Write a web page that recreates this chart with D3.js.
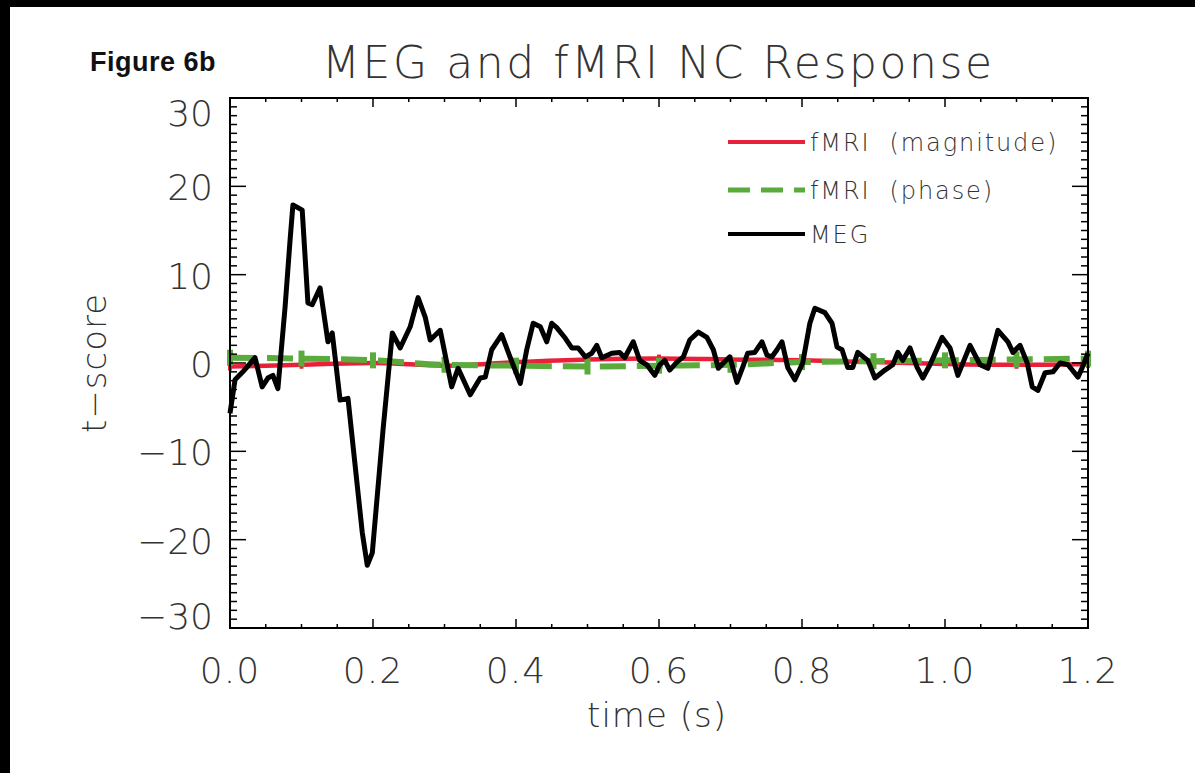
<!DOCTYPE html>
<html>
<head>
<meta charset="utf-8">
<script src="https://cdn.jsdelivr.net/npm/d3@7"></script>
<style>
  html, body { margin: 0; padding: 0; background: #fff; }
  svg { display: block; }
  .thin { font-family: "DejaVu Sans", sans-serif; font-weight: 200; fill: #333; }
</style>
</head>
<body>
<svg id="chart" width="1195" height="773"></svg>
<script>
// MEG t-score trace (time in s, t-score)
const megTime = [0.000,0.007,0.018,0.035,0.045,0.053,0.060,0.067,0.077,0.084,0.088,0.101,0.109,0.115,0.126,0.137,0.143,0.154,0.165,0.185,0.192,0.199,0.214,0.227,0.238,0.252,0.263,0.273,0.280,0.294,0.310,0.319,0.336,0.350,0.357,0.366,0.380,0.392,0.406,0.415,0.424,0.434,0.443,0.450,0.457,0.469,0.478,0.487,0.497,0.506,0.513,0.520,0.534,0.545,0.552,0.564,0.573,0.583,0.594,0.601,0.608,0.615,0.625,0.634,0.643,0.655,0.667,0.676,0.683,0.690,0.699,0.709,0.717,0.724,0.734,0.744,0.751,0.758,0.765,0.772,0.780,0.790,0.801,0.811,0.818,0.832,0.842,0.849,0.856,0.864,0.871,0.878,0.892,0.902,0.916,0.927,0.934,0.941,0.951,0.961,0.969,0.979,0.996,1.007,1.018,1.035,1.049,1.060,1.074,1.088,1.095,1.105,1.115,1.122,1.130,1.140,1.151,1.161,1.172,1.186,1.192,1.200];
const megValue = [-5.7,-1.9,-1.0,0.6,-2.7,-1.7,-1.4,-2.9,6.3,13.9,17.9,17.3,6.8,6.6,8.5,2.4,3.4,-4.2,-4.0,-19.2,-22.9,-21.5,-7.6,3.4,1.7,4.1,7.4,5.2,2.6,3.7,-2.7,-0.6,-3.6,-1.7,-1.6,1.5,3.2,0.6,-2.3,1.5,4.5,4.1,2.4,4.5,4.0,2.8,1.7,1.7,0.7,1.1,2.0,0.6,1.1,1.2,0.6,2.4,0.3,-0.2,-1.4,-0.2,0.3,-0.8,0.1,0.7,2.6,3.5,2.9,1.5,-0.6,0.0,0.7,-2.2,-0.5,1.1,1.2,2.4,0.9,0.7,1.5,2.4,-0.5,-1.9,0.0,4.5,6.2,5.7,4.5,1.8,1.5,-0.5,-0.5,1.2,0.3,-1.7,-0.8,-0.2,1.2,0.3,1.7,-0.5,-1.7,-0.2,2.9,1.7,-1.4,2.0,-0.2,-0.6,3.7,2.4,1.2,2.0,0.0,-2.7,-3.1,-1.1,-1.0,0.0,-0.2,-1.6,-0.5,1.1];

// fMRI responses sampled every 0.1 s
const fmriTime = [0.0,0.1,0.2,0.3,0.4,0.5,0.6,0.7,0.8,0.9,1.0,1.1,1.2];
const fmriMagnitude = [-0.4,-0.2,0.0,-0.3,0.1,0.4,0.5,0.4,0.3,0.1,-0.1,-0.2,-0.1];
const fmriPhase = [0.6,0.5,0.3,-0.2,-0.3,-0.4,-0.3,-0.2,0.1,0.2,0.3,0.4,0.5];

// Axis ticks
const xTicks = [0.0,0.2,0.4,0.6,0.8,1.0,1.2];
const xTickLabels = ["0.0","0.2","0.4","0.6","0.8","1.0","1.2"];
const yTicks = [-30,-20,-10,0,10,20,30];
const yTickLabels = ["\u221230","\u221220","\u221210","0","10","20","30"];

const legendLabels = ["fMRI\u00a0\u00a0(magnitude)", "fMRI\u00a0\u00a0(phase)", "MEG"];
const seriesColors = ["#e8203a", "#5aaa3c", "#000000"];

const svg = d3.select("#chart");
const W = 1195, H = 773;
svg.append("rect").attr("width", W).attr("height", H).attr("fill", "#fff");

const L = 230, R = 1088, T = 98, B = 628;
const x = d3.scaleLinear().domain([0, 1.2]).range([L, R]);
const y = d3.scaleLinear().domain([-30, 30]).range([B, T]);

// series
const lineGen = d3.line().x(d => x(d[0])).y(d => y(d[1]));
const magData = fmriTime.map((t, i) => [t, fmriMagnitude[i]]);
const phaseData = fmriTime.map((t, i) => [t, fmriPhase[i]]);
const megData = megTime.map((t, i) => [t, megValue[i]]);

const plot = svg.append("g");
plot.append("path").datum(magData).attr("d", lineGen.curve(d3.curveMonotoneX))
  .attr("fill", "none").attr("stroke", seriesColors[0]).attr("stroke-width", 4.5);
plot.selectAll(".magbar").data(magData).enter().append("line")
  .attr("x1", d => x(d[0])).attr("x2", d => x(d[0]))
  .attr("y1", d => y(d[1]) - 4).attr("y2", d => y(d[1]) + 4)
  .attr("stroke", seriesColors[0]).attr("stroke-width", 4);

plot.append("path").datum(phaseData).attr("d", lineGen.curve(d3.curveMonotoneX))
  .attr("fill", "none").attr("stroke", seriesColors[1]).attr("stroke-width", 6)
  .attr("stroke-dasharray", "26,11");
plot.selectAll(".phbar").data(phaseData).enter().append("line")
  .attr("x1", d => x(d[0])).attr("x2", d => x(d[0]))
  .attr("y1", d => y(d[1]) - 8).attr("y2", d => y(d[1]) + 8)
  .attr("stroke", seriesColors[1]).attr("stroke-width", 6);

plot.append("path").datum(megData).attr("d", d3.line().x(d => x(d[0])).y(d => y(d[1])))
  .attr("fill", "none").attr("stroke", "#000").attr("stroke-width", 5)
  .attr("stroke-linejoin", "round");

// frame and ticks
const axes = svg.append("g").attr("stroke", "#000").attr("fill", "none");
axes.append("rect").attr("x", L).attr("y", T).attr("width", R - L).attr("height", B - T)
  .attr("stroke-width", 2);

const yMinor = d3.range(-30, 31, 1);
yMinor.forEach(v => {
  const major = v % 10 === 0;
  const len = major ? 16 : 7;
  axes.append("line").attr("x1", L).attr("x2", L + len).attr("y1", y(v)).attr("y2", y(v)).attr("stroke-width", 1.5);
  axes.append("line").attr("x1", R).attr("x2", R - len).attr("y1", y(v)).attr("y2", y(v)).attr("stroke-width", 1.5);
});
const xMinor = d3.range(0, 25, 1).map(i => i * 0.05);
xMinor.forEach((v, i) => {
  const major = i % 4 === 0;
  const len = major ? 9 : 4;
  axes.append("line").attr("x1", x(v)).attr("x2", x(v)).attr("y1", B).attr("y2", B - len).attr("stroke-width", 1.5);
  axes.append("line").attr("x1", x(v)).attr("x2", x(v)).attr("y1", T).attr("y2", T + len).attr("stroke-width", 1.5);
});

// tick labels (end labels kept inside the frame's vertical extent)
svg.selectAll(".ylab").data(yTicks).enter().append("text")
  .attr("class", "thin").attr("x", 213)
  .attr("y", d => Math.min(Math.max(y(d) + 1, T + 15), B - 12) + 13)
  .attr("text-anchor", "end").attr("font-size", 36)
  .text((d, i) => yTickLabels[i]);
svg.selectAll(".xlab").data(xTicks).enter().append("text")
  .attr("class", "thin").attr("x", d => x(d)).attr("y", 683)
  .attr("text-anchor", "middle").attr("font-size", 36).attr("letter-spacing", 1)
  .text((d, i) => xTickLabels[i]);

// axis titles
svg.append("text").attr("class", "thin").attr("x", 657).attr("y", 727)
  .attr("text-anchor", "middle").attr("font-size", 34).attr("letter-spacing", 1)
  .text("time (s)");
svg.append("text").attr("class", "thin")
  .attr("transform", "translate(106,363) rotate(-90)")
  .attr("text-anchor", "middle").attr("font-size", 34).attr("letter-spacing", 1)
  .text("t\u2212score");

// title
svg.append("text").attr("class", "thin").attr("x", 322).attr("y", 78)
  .attr("font-size", 44).attr("textLength", 670).attr("lengthAdjust", "spacing")
  .text("MEG and fMRI NC Response");

svg.append("text").attr("x", 90).attr("y", 71)
  .attr("font-family", "Liberation Sans, Arial, sans-serif").attr("font-weight", "bold")
  .attr("font-size", 27).attr("fill", "#111").attr("letter-spacing", 0.5)
  .text("Figure 6b");

// legend
const legendY = [142, 190, 234];
const legend = svg.append("g");
legendLabels.forEach((lab, i) => {
  const ln = legend.append("line").attr("x1", 728).attr("x2", 805)
    .attr("y1", legendY[i]).attr("y2", legendY[i])
    .attr("stroke", seriesColors[i]).attr("stroke-width", i === 1 ? 5 : 4);
  if (i === 1) ln.attr("stroke-dasharray", "22,11");
  legend.append("text").attr("class", "thin").attr("x", 810).attr("y", legendY[i] + 9)
    .attr("font-size", 24).attr("letter-spacing", 1.9).attr("fill", "#222").text(lab);
});

// dark margins along the top and left edges
svg.append("rect").attr("x", 0).attr("y", 0).attr("width", W).attr("height", 7).attr("fill", "#000");
svg.append("rect").attr("x", 0).attr("y", 0).attr("width", 10).attr("height", H).attr("fill", "#000");
</script>
</body>
</html>
